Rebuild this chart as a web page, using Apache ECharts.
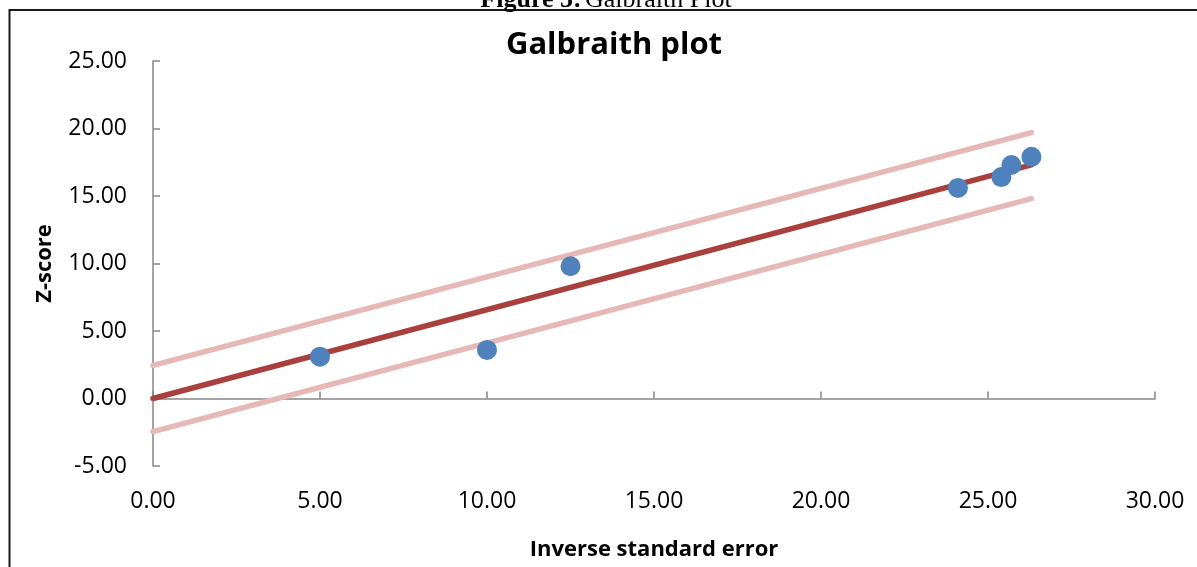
<!DOCTYPE html>
<html>
<head>
<meta charset="utf-8">
<script src="https://cdn.jsdelivr.net/npm/echarts@6/dist/echarts.min.js"></script>
<style>
html,body{margin:0;padding:0;background:#fff;}
#chart{width:1197px;height:567px;}
</style>
</head>
<body>
<div id="chart"></div>
<script>
// ---- data ----
const pointsX = [5.0, 10.0, 12.5, 24.1, 25.4, 25.7, 26.3];
const pointsZ = [3.1, 3.6, 9.8, 15.6, 16.4, 17.3, 17.9];
const lineX = [0, 26.3];
const fitZ = [0, 17.3];
const upperZ = [2.45, 19.7];
const lowerZ = [-2.45, 14.8];
const xTicks = [0, 5, 10, 15, 20, 25, 30];
const yTicks = [-5, 0, 5, 10, 15, 20, 25];

const pair = (xs, ys) => xs.map((x, i) => [x, ys[i]]);
const fmt = v => Number(v).toFixed(2);
const axisGray = '#868686';
const font = '"Open Sans", "Liberation Sans", sans-serif';

const chart = echarts.init(document.getElementById('chart'), null, {renderer: 'canvas'});
chart.setOption({
  animation: false,
  backgroundColor: '#fff',
  title: {
    text: 'Galbraith plot',
    left: 609,
    textAlign: 'center',
    top: 25,
    textStyle: {fontFamily: font, fontWeight: 'bold', fontSize: 31, color: '#000'}
  },
  grid: {left: 153, right: 42, top: 61, bottom: 101, containLabel: false},
  xAxis: [
    {
      type: 'value', min: xTicks[0], max: xTicks[xTicks.length - 1], interval: 5,
      position: 'bottom',
      axisLine: {show: true, onZero: true, lineStyle: {color: axisGray, width: 1.5}},
      axisTick: {show: true, inside: true, length: 7, lineStyle: {color: axisGray, width: 1.5}},
      axisLabel: {show: false},
      splitLine: {show: false}
    },
    {
      type: 'value', min: xTicks[0], max: xTicks[xTicks.length - 1], interval: 5,
      position: 'bottom',
      axisLine: {show: false, onZero: false},
      axisTick: {show: false},
      axisLabel: {show: true, margin: 24, formatter: fmt,
        fontFamily: font, fontSize: 23, color: '#000'},
      splitLine: {show: false},
      name: 'Inverse standard error',
      nameLocation: 'middle',
      nameGap: 73,
      nameTextStyle: {fontFamily: font, fontWeight: 'bold', fontSize: 22, color: '#000'}
    }
  ],
  yAxis: {
    type: 'value', min: yTicks[0], max: yTicks[yTicks.length - 1], interval: 5,
    axisLine: {show: true, onZero: false, lineStyle: {color: axisGray, width: 1.5}},
    axisTick: {show: true, inside: true, length: 7, lineStyle: {color: axisGray, width: 1.5}},
    axisLabel: {show: true, margin: 26, formatter: fmt,
      fontFamily: font, fontSize: 23, color: '#000'},
    splitLine: {show: false},
    name: 'Z-score',
    nameLocation: 'middle',
    nameGap: 97,
    nameRotate: 90,
    nameTextStyle: {fontFamily: font, fontWeight: 'bold', fontSize: 22, color: '#000'}
  },
  series: [
    {
      type: 'line', name: 'Upper', xAxisIndex: 0, data: pair(lineX, upperZ),
      symbol: 'none', lineStyle: {color: '#E6B9B8', width: 5.5, cap: 'round'}, z: 2
    },
    {
      type: 'line', name: 'Lower', xAxisIndex: 0, data: pair(lineX, lowerZ),
      symbol: 'none', lineStyle: {color: '#E6B9B8', width: 5.5, cap: 'round'}, z: 2
    },
    {
      type: 'line', name: 'Fit', xAxisIndex: 0, data: pair(lineX, fitZ),
      symbol: 'none', lineStyle: {color: '#A9403D', width: 5.5, cap: 'round'}, z: 3
    },
    {
      type: 'scatter', name: 'Studies', xAxisIndex: 0, data: pair(pointsX, pointsZ),
      symbol: 'circle', symbolSize: 20,
      itemStyle: {color: '#4F81BD', opacity: 1}, z: 4
    }
  ],
  graphic: [
    {
      type: 'polyline', silent: true,
      shape: {points: [[9.5, 567], [9.5, 10], [1197, 10]]},
      style: {stroke: '#1a1a1a', lineWidth: 2, fill: null}
    },
    {
      type: 'text', silent: true,
      x: 606, y: 13,
      style: {
        text: '{b|Figure 5:} {n|Galbraith Plot}',
        align: 'center', verticalAlign: 'bottom',
        rich: {
          b: {fontFamily: '"Liberation Serif", "Times New Roman", serif', fontWeight: 'bold', fontSize: 26, fill: '#000'},
          n: {fontFamily: '"Liberation Serif", "Times New Roman", serif', fontSize: 26, fill: '#000'}
        }
      }
    }
  ]
});
</script>
</body>
</html>
